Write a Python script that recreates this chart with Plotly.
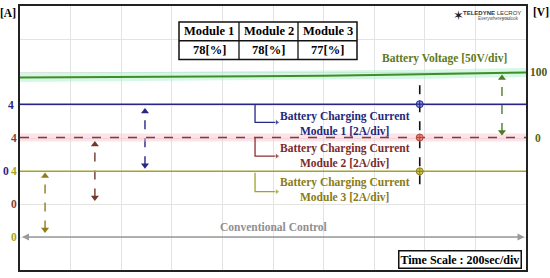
import plotly.graph_objects as go

# ---------------- data ----------------
time_s = [0, 200, 400, 600, 800, 1000, 1200, 1400, 1600, 1800, 2000]
battery_voltage_v = [91.7, 92.0, 92.3, 92.6, 92.9, 93.2, 94.3, 95.5, 96.7, 98.0, 99.2]
module1_current_a = [4.05, 4.05, 4.05, 4.05, 4.05, 4.05, 4.05, 4.05, 4.05, 4.05, 4.05]
module2_current_a = [4.03, 4.03, 4.03, 4.03, 4.03, 4.03, 4.03, 4.03, 4.03, 4.03, 4.03]
module3_current_a = [3.98, 3.98, 3.98, 3.98, 3.98, 3.98, 3.98, 3.98, 3.98, 3.98, 3.98]

modules = ["Module 1", "Module 2", "Module 3"]
efficiency = ["78[%]", "78[%]", "77[%]"]

measure_t = 1580          # time of the measurement cursor
time_per_div = 200        # sec/div

# ---------------- styling ----------------
SERIF = "Times New Roman, Liberation Serif, serif"
C_V = "#3f8f22"
C_V_BAND = "rgba(170,240,205,0.5)"
C_M1 = "#26268a"
C_M2 = "#7a3f3f"
C_M2_BAND = "rgba(250,190,205,0.45)"
C_M3 = "#a3a329"
C_V_TXT = "#5d7a1c"
C_M1_TXT = "#1f2878"
C_M2_TXT = "#7b2b2b"
C_M3_TXT = "#8a7b12"

W, H = 550, 278
L, R, T, B = 20, 24, 4, 8
PW, PH = W - L - R, H - T - B


def px(xp):
    return (xp - L) / PW


def py(yp):
    return (H - B - yp) / PH


fig = go.Figure()

# bands under traces
fig.add_trace(go.Scatter(x=time_s, y=battery_voltage_v, yaxis="y5", mode="lines",
                         line=dict(color=C_V_BAND, width=9), hoverinfo="skip", showlegend=False))
fig.add_trace(go.Scatter(x=time_s, y=module2_current_a, yaxis="y3", mode="lines",
                         line=dict(color=C_M2_BAND, width=8), hoverinfo="skip", showlegend=False))

# main traces
fig.add_trace(go.Scatter(x=time_s, y=battery_voltage_v, yaxis="y5", mode="lines",
                         line=dict(color=C_V, width=2), showlegend=False))
fig.add_trace(go.Scatter(x=time_s, y=module1_current_a, yaxis="y2", mode="lines",
                         line=dict(color=C_M1, width=1.5), showlegend=False))
fig.add_trace(go.Scatter(x=time_s, y=module2_current_a, yaxis="y3", mode="lines",
                         line=dict(color=C_M2, width=1.6, dash="dash"), showlegend=False))
fig.add_trace(go.Scatter(x=time_s, y=module3_current_a, yaxis="y4", mode="lines",
                         line=dict(color=C_M3, width=1.5), showlegend=False))

# dashed double arrows showing the scale spans
def span_arrow(t, lo, hi, axis, color):
    fig.add_trace(go.Scatter(x=[t, t], y=[lo, hi], yaxis=axis, mode="lines+markers",
                             line=dict(color=color, width=1.4, dash="dash"),
                             marker=dict(symbol=["triangle-down", "triangle-up"], size=7, color=color),
                             hoverinfo="skip", showlegend=False))

span_arrow(494, 0.35, 3.6, "y2", C_M1)
span_arrow(296, 0.4, 3.6, "y3", "#6e3a2c")
span_arrow(99, 0.45, 3.7, "y4", "#8e7d1a")
span_arrow(1905, 9, 91, "y5", "#4f7a28")

# connectors from traces to labels
def connector(t0, t1, yline, ybend, axis, color):
    fig.add_trace(go.Scatter(x=[t0, t0, t1], y=[yline, ybend, ybend], yaxis=axis, mode="lines+markers",
                             line=dict(color=color, width=1.3),
                             marker=dict(symbol=["circle", "circle", "triangle-right"], size=[0, 0, 6], color=color),
                             hoverinfo="skip", showlegend=False))

connector(929, 1015, module1_current_a[0], 2.95, "y2", C_M1)
connector(929, 1015, module2_current_a[0], 2.9, "y3", "#8a3030")
connector(929, 1015, 3.9, 2.75, "y4", C_M3)

# measurement cursor
fig.add_trace(go.Scatter(x=[measure_t, measure_t], y=[5.6, 2.4], mode="lines",
                         line=dict(color="#111111", width=1.6, dash="dash"),
                         hoverinfo="skip", showlegend=False))
fig.add_trace(go.Scatter(x=[measure_t], y=[module1_current_a[8]], yaxis="y2", mode="markers",
                         marker=dict(symbol="circle-cross", size=7, color="rgba(110,130,220,0.8)",
                                     line=dict(color=C_M1, width=1)), showlegend=False))
fig.add_trace(go.Scatter(x=[measure_t], y=[module2_current_a[8]], yaxis="y3", mode="markers",
                         marker=dict(symbol="circle-cross", size=7, color="rgba(235,120,110,0.85)",
                                     line=dict(color="#b04a3a", width=1)), showlegend=False))
fig.add_trace(go.Scatter(x=[measure_t], y=[module3_current_a[8]], yaxis="y4", mode="markers",
                         marker=dict(symbol="circle-cross", size=7, color="rgba(200,190,60,0.85)",
                                     line=dict(color="#8a8020", width=1)), showlegend=False))

ann = []

def txt(x, y, s, color="black", size=11, xref="paper", yref="paper", xanchor="center", yanchor="middle", **kw):
    ann.append(dict(x=x, y=y, xref=xref, yref=yref, text=s, showarrow=False,
                    font=dict(family=SERIF, size=size, color=color),
                    xanchor=xanchor, yanchor=yanchor, **kw))

# axis unit labels and channel tick labels
txt(px(18), py(11), "<b>[A]</b>", xanchor="right", size=11.5)
txt(px(531), py(10), "<b>[V]</b>", xanchor="left", size=11.5)
txt(px(18), 4, "<b>4</b>", C_M1, yref="y2", xanchor="right", xshift=-2, size=11.5)
txt(px(11), 0, "<b>0</b>", C_M1, yref="y2", xanchor="right", size=11.5)
txt(px(19), 4, "<b>4</b>", C_M2, yref="y3", xanchor="right", size=11.5)
txt(px(19), 0, "<b>0</b>", C_M2, yref="y3", xanchor="right", size=11.5)
txt(px(19), 4, "<b>4</b>", C_M3, yref="y4", xanchor="right", size=11.5)
txt(px(19), 0, "<b>0</b>", C_M3, yref="y4", xanchor="right", size=11.5)
txt(px(528), 100, "<b>100</b>", "#4d5a22", yref="y5", xanchor="left", size=11.5)
txt(px(533), 0, "<b>0</b>", "#4d6a22", yref="y5", xanchor="left", size=11.5)

# trace labels
txt(1676, 6.0, "<b>Battery Voltage [50V/div]</b>", C_V_TXT, xref="x", yref="y", yshift=14, size=11.5)
txt(1285, 4.0, "<b>Battery Charging Current<br>Module 1 [2A/div]</b>", C_M1_TXT, xref="x", yref="y2",
    yanchor="top", yshift=-3, size=11.5)
txt(1285, 4.0, "<b>Battery Charging Current<br>Module 2 [2A/div]</b>", C_M2_TXT, xref="x", yref="y3",
    yanchor="top", yshift=-2, size=11.5)
txt(1285, 4.0, "<b>Battery Charging Current<br>Module 3 [2A/div]</b>", C_M3_TXT, xref="x", yref="y4",
    yanchor="top", yshift=-3, size=11.5)
txt(1000, 0, "<b>Conventional Control</b>", "#8f8f8f", xref="x", yref="y4", yanchor="bottom", yshift=2, size=11.5)

# conventional control double arrow
ann.append(dict(x=8, y=0, xref="x", yref="y4", ax=2000, ay=0, axref="x", ayref="y4",
                showarrow=True, arrowhead=2, startarrowhead=2, arrowside="end+start",
                arrowsize=1, startarrowsize=1, arrowwidth=1.4, arrowcolor="#9a9a9a", text=""))

# arrow from table to cursor
ann.append(dict(x=measure_t - 14, y=5.13, xref="x", yref="y", ax=px(357), ay=py(58), axref="x domain",
                ayref="y domain", showarrow=True, arrowhead=2, arrowsize=1, arrowwidth=1.2,
                arrowcolor="#111111", text=""))

# efficiency table
col_edges = [179, 239, 298, 357]
row_edges = [20, 39, 58]
shapes = []
shapes.append(dict(type="rect", xref="paper", yref="paper", x0=px(col_edges[0]), x1=px(col_edges[-1]),
                   y0=py(row_edges[-1]), y1=py(row_edges[0]), line=dict(color="#111", width=1.5),
                   fillcolor="white", layer="above"))
for ce in col_edges[1:-1]:
    shapes.append(dict(type="line", xref="paper", yref="paper", x0=px(ce), x1=px(ce),
                       y0=py(row_edges[-1]), y1=py(row_edges[0]), line=dict(color="#111", width=1.3), layer="above"))
shapes.append(dict(type="line", xref="paper", yref="paper", x0=px(col_edges[0]), x1=px(col_edges[-1]),
                   y0=py(row_edges[1]), y1=py(row_edges[1]), line=dict(color="#111", width=1.3), layer="above"))
for i, (m, e) in enumerate(zip(modules, efficiency)):
    cx = px((col_edges[i] + col_edges[i + 1]) / 2)
    txt(cx, py((row_edges[0] + row_edges[1]) / 2), f"<b>{m}</b>", size=12.5)
    txt(cx, py((row_edges[1] + row_edges[2]) / 2), f"<b>{e}</b>", size=12.5)

# time scale box
ann.append(dict(x=px(522), y=py(259), xref="paper", yref="paper", xanchor="right", yanchor="middle",
                text=f"<b>Time Scale : {time_per_div}sec/div</b>", showarrow=False,
                font=dict(family=SERIF, size=12, color="black"),
                bordercolor="#111", borderwidth=1.5, borderpad=1, bgcolor="white"))

# logo
txt(px(458), py(14), "✶", "#222", size=13)
ann.append(dict(x=px(523), y=py(11), xref="paper", yref="paper", xanchor="right", yanchor="middle",
                text="<b>TELEDYNE</b> LECROY", showarrow=False,
                font=dict(family="Liberation Sans, Arial, sans-serif", size=6, color="#333")))
ann.append(dict(x=px(521), y=py(17), xref="paper", yref="paper", xanchor="right", yanchor="middle",
                text="Everywhere<b>you</b>look", showarrow=False,
                font=dict(family="Liberation Sans, Arial, sans-serif", size=4.5, color="#555")))

grid = "#e3e3e3"
fig.update_layout(
    width=W, height=H,
    margin=dict(l=L, r=R, t=T, b=B),
    paper_bgcolor="white", plot_bgcolor="white",
    showlegend=False,
    xaxis=dict(range=[0, 10 * time_per_div], dtick=time_per_div, showgrid=True, gridcolor=grid,
               gridwidth=1, showticklabels=False, ticks="", zeroline=False,
               showline=True, mirror=True, linecolor="#222", linewidth=2),
    yaxis=dict(range=[0, 8], dtick=1, showgrid=True, gridcolor=grid, gridwidth=1,
               showticklabels=False, ticks="", zeroline=False,
               showline=True, mirror=True, linecolor="#222", linewidth=2),
    yaxis2=dict(range=[-6, 10], overlaying="y", visible=False),
    yaxis3=dict(range=[-4, 12], overlaying="y", visible=False),
    yaxis4=dict(range=[-2, 14], overlaying="y", visible=False),
    yaxis5=dict(range=[-200, 200], overlaying="y", visible=False, side="right"),
    annotations=ann,
    shapes=shapes,
)

fig.write_html("out.html", config={"displayModeBar": False},
               post_script="document.body.style.margin='0';document.body.style.overflow='hidden';")
